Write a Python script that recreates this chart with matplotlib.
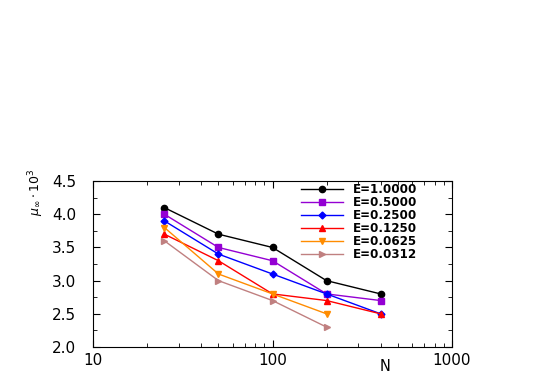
import matplotlib
matplotlib.use('Agg')
import matplotlib.pyplot as plt
from matplotlib.ticker import MultipleLocator, LogLocator, FixedLocator

N = [25, 50, 100, 200, 400]
mu_e1 = [4.1, 3.7, 3.5, 3.0, 2.8]
mu_e05 = [4.0, 3.5, 3.3, 2.8, 2.7]
mu_e025 = [3.9, 3.4, 3.1, 2.8, 2.5]
mu_e0125 = [3.7, 3.3, 2.8, 2.7, 2.5]
mu_e00625 = [3.8, 3.1, 2.8, 2.5]
mu_e00312 = [3.6, 3.0, 2.7, 2.3]

labels = ['E=1.0000', 'E=0.5000', 'E=0.2500', 'E=0.1250', 'E=0.0625', 'E=0.0312']
series = [mu_e1, mu_e05, mu_e025, mu_e0125, mu_e00625, mu_e00312]
colors = ['black', '#9400d3', '#0000ff', '#ff0000', '#ff8c00', '#c08080']
markers = ['o', 's', 'D', '^', 'v', '>']
msizes = [4.5, 4.5, 3.5, 5, 5, 5]

fig = plt.figure(figsize=(5.45, 3.92), dpi=100)
ax = fig.add_axes([0.1706, 0.1148, 0.6588, 0.4232])

for y, lab, c, m, ms in zip(series, labels, colors, markers, msizes):
    ax.plot(N[:len(y)], y, color=c, marker=m, markersize=ms, linewidth=1, label=lab)

ax.set_xscale('log')
ax.set_xlim(10, 1000)
ax.set_ylim(2.0, 4.5)
ax.xaxis.set_major_locator(FixedLocator([10, 100, 1000]))
ax.xaxis.set_major_formatter(matplotlib.ticker.FuncFormatter(lambda v, p: '%d' % v))
ax.xaxis.set_minor_locator(LogLocator(base=10, subs=range(2, 10)))
ax.xaxis.set_minor_formatter(matplotlib.ticker.NullFormatter())
ax.yaxis.set_major_locator(MultipleLocator(0.5))
ax.yaxis.set_minor_locator(MultipleLocator(0.25))
ax.yaxis.set_major_formatter(matplotlib.ticker.FormatStrFormatter('%.1f'))
ax.tick_params(which='both', direction='in', top=True, right=True, labelsize=11)
ax.tick_params(which='major', length=5)
ax.tick_params(which='minor', length=3)
ax.tick_params(axis='x', pad=4)
ax.tick_params(axis='y', pad=12)

ax.set_xlabel('N', fontsize=10.5)
ax.xaxis.set_label_coords(0.813, -0.075)
ax.set_ylabel(r'$\mu_\infty \cdot 10^3$', fontsize=9)
ax.yaxis.set_label_coords(-0.13, 0.93)

leg = ax.legend(loc='upper left', bbox_to_anchor=(0.572, 1.0), frameon=False,
                fontsize=8.6, handlelength=3.5, labelspacing=0.0, borderaxespad=0,
                borderpad=0.2, handletextpad=0.9)
for t in leg.get_texts():
    t.set_fontweight('bold')

fig.savefig('out.png', dpi=100)
